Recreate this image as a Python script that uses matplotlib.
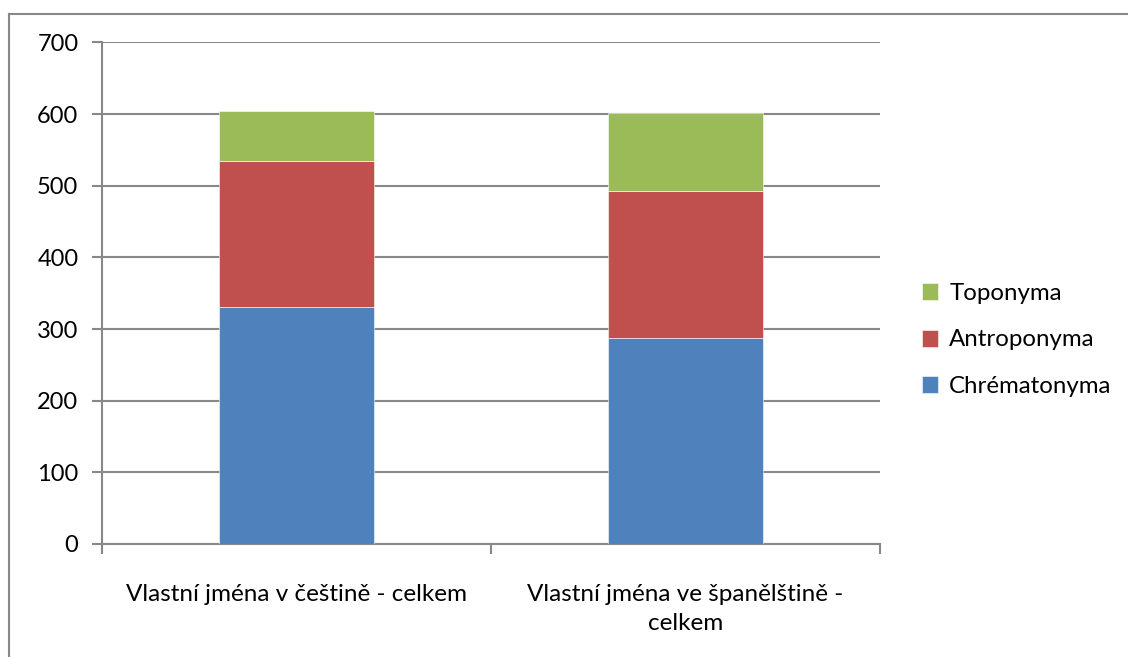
import matplotlib
matplotlib.use("Agg")
import matplotlib.pyplot as plt
from matplotlib.lines import Line2D
import numpy as np

categories = ["Vlastní jména v češtině - celkem",
              "Vlastní jména ve španělštině -\ncelkem"]
chrematonyma = [331, 287]
antroponyma = [203, 206]
toponyma = [70, 108]

series = [("Chrématonyma", chrematonyma, "#4F81BD"),
          ("Antroponyma", antroponyma, "#C0504D"),
          ("Toponyma", toponyma, "#9BBB59")]

plt.rcParams["font.family"] = ["Lato", "DejaVu Sans"]

fig = plt.figure(figsize=(11.28, 6.57), dpi=100)
ax = fig.add_axes([102 / 1128, 1 - 544 / 657, (880 - 102) / 1128, (544 - 42.5) / 657])

x = np.arange(len(categories))
bottom = np.zeros(len(categories))
handles = []
for name, vals, color in series:
    b = ax.bar(x, vals, width=0.4, bottom=bottom, color=color, label=name,
               edgecolor="white", linewidth=0.4, zorder=3)
    bottom += np.array(vals)
    handles.append(b)

ax.set_xlim(-0.5, 1.5)
ax.set_ylim(0, 700)
ax.set_yticks(range(0, 701, 100))
ax.yaxis.grid(True, color="#888888", linewidth=1.5, zorder=0)
ax.set_axisbelow(True)

for s in ["top", "right"]:
    ax.spines[s].set_visible(False)
for s in ["left", "bottom"]:
    ax.spines[s].set_color("#888888")
    ax.spines[s].set_linewidth(1.5)

ax.set_xticks([-0.5, 0.5, 1.5])
ax.set_xticklabels([])
ax.set_xticks(x, minor=True)
ax.set_xticklabels(categories, minor=True, fontsize=17.5, linespacing=1.45)
ax.tick_params(axis="x", which="major", direction="out", length=7, width=1.5, color="#888888")
ax.tick_params(axis="x", which="minor", length=0, pad=29)
ax.tick_params(axis="y", direction="out", length=7, width=1.5, color="#888888",
               labelsize=17, pad=10)
for lbl in ax.get_xticklabels(minor=True):
    lbl.set_verticalalignment("top")

leg = fig.legend(handles[::-1], [s[0] for s in series][::-1],
                 loc="center left", bbox_to_anchor=(912 / 1128, 1 - 340 / 657),
                 frameon=False, fontsize=17.3, handlelength=0.7, handleheight=0.7,
                 handletextpad=0.45, labelspacing=1.05, borderaxespad=0)

# outer chart frame
fig.add_artist(Line2D([9 / 1128, 9 / 1128], [0, 1 - 14 / 657], color="#888888",
                      linewidth=1.5, transform=fig.transFigure))
fig.add_artist(Line2D([9 / 1128, 1], [1 - 14 / 657, 1 - 14 / 657], color="#888888",
                      linewidth=1.5, transform=fig.transFigure))

fig.savefig("out.png", dpi=100)
